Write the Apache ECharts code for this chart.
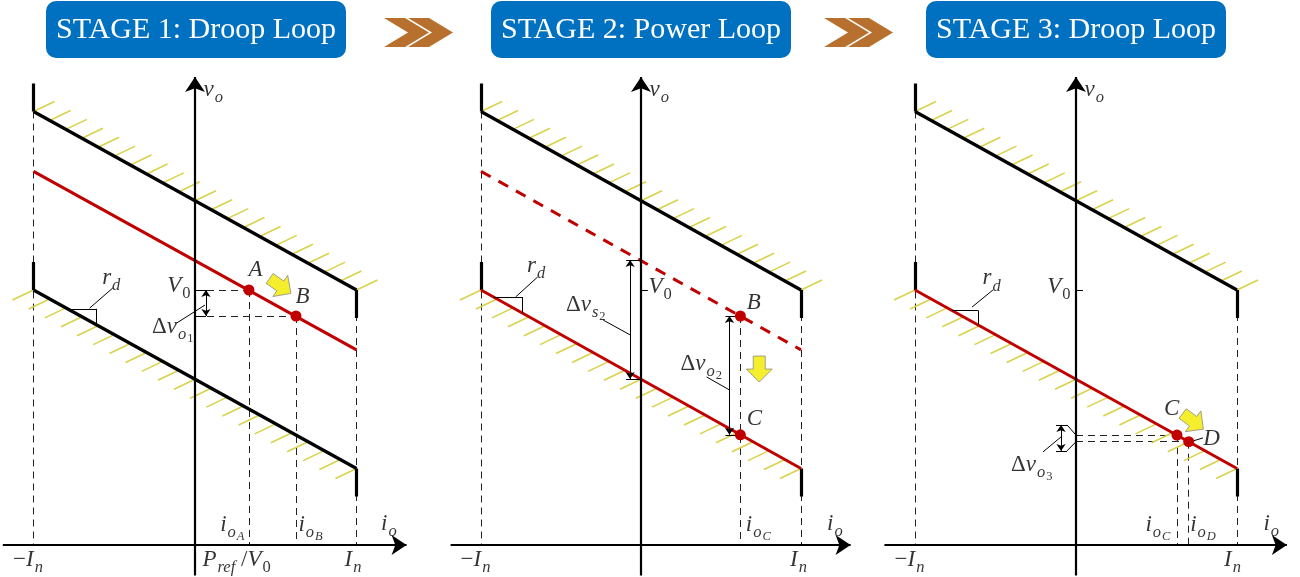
<!DOCTYPE html>
<html><head><meta charset="utf-8">
<script src="https://cdn.jsdelivr.net/npm/echarts@6/dist/echarts.min.js"></script>
<style>html,body{margin:0;padding:0;background:#fff}#c{width:1300px;height:577px}</style>
</head><body><div id="c"></div><script>
// ===== DATA (x: i_o in units of I_n, y: v_o in units of V0) =====
const stageTitles = ['STAGE 1: Droop Loop', 'STAGE 2: Power Loop', 'STAGE 3: Droop Loop'];
const upperLimit = [[-1, 1.70], [1, 1.00]];
const lowerLimit = [[-1, 1.00], [1, 0.30]];
const upperStubs = [[[-1, 1.70], [-1, 1.81]], [[1, 1.00], [1, 0.89]]];
const lowerStubs = [[[-1, 1.00], [-1, 1.11]], [[1, 0.30], [1, 0.19]]];
const droopStage1 = [[-1, 1.465], [1, 0.765]];
const xAxisSpan = [-1.19, 1.31];
const yAxisSpan = [-0.12, 1.835];
const V0 = 1.0;
const stage1Points = [[0.334, 1.000], [0.625, 0.898]];   // A, B
const stage2Points = [[0.621, 0.898], [0.621, 0.432]];   // B, C
const stage3Points = [[0.627, 0.431], [0.700, 0.405]];   // C, D
const rdTriangles = [
  [[-0.789, 0.926], [-0.609, 0.926], [-0.609, 0.863]],
  [[-0.920, 0.972], [-0.740, 0.972], [-0.740, 0.909]],
  [[-0.770, 0.920], [-0.609, 0.920], [-0.609, 0.863]]
];
const dVo1 = {x: 0.068, from: 1.000, to: 0.898};
const dVs2 = {x: -0.068, from: 1.118, to: 0.651};
const dVo2 = {x: 0.553, from: 0.898, to: 0.432};
const dVo3 = {x: -0.093, from: 0.471, to: 0.369};

// ===== LAYOUT / STYLE =====
const PANELS = [{cx: 195, sx: 161.5}, {cx: 641, sx: 160}, {cx: 1076, sx: 161}];
const Y0 = 545, SY = 255, XMIN = -1.2, XMAX = 1.35, YMIN = -0.12, YMAX = 1.95;
const RED = '#c00000', HATCH = '#d9d24a', BLUE = '#0070c0', COPPER = '#b8702f';
const MF = 'Liberation Serif';
const BASE_LH = 24;

const RICH = {
  it: {fontFamily: MF, fontStyle: 'italic', fontSize: 23, lineHeight: 24, verticalAlign: 'top', color: '#000'},
  rm: {fontFamily: MF, fontSize: 23, lineHeight: 24, verticalAlign: 'top', color: '#000'},
  si: {fontFamily: MF, fontStyle: 'italic', fontSize: 16.5, lineHeight: 16, padding: [11, 0, 0, 1], verticalAlign: 'top', color: '#000'},
  sr: {fontFamily: MF, fontSize: 16.5, lineHeight: 16, padding: [11, 0, 0, 1], verticalAlign: 'top', color: '#000'},
  ssi: {fontFamily: MF, fontStyle: 'italic', fontSize: 12.5, lineHeight: 12, padding: [17, 0, 0, 1], verticalAlign: 'top', color: '#000'},
  ssr: {fontFamily: MF, fontSize: 12.5, lineHeight: 12, padding: [17, 0, 0, 1], verticalAlign: 'top', color: '#000'}
};
const it = s => `{it|${s}}`, rm = s => `{rm|${s}}`, si = s => `{si|${s}}`, sr = s => `{sr|${s}}`,
      ssi = s => `{ssi|${s}}`, ssr = s => `{ssr|${s}}`;
const T = {
  vo: it('v') + si('o'), io: it('i') + si('o'),
  mIn: rm('−') + it('I') + si('n'), In: it('I') + si('n'),
  V0: it('V') + sr('0'), rd: it('r') + si('d'),
  pref: it('P') + si('ref') + rm(' /') + it('V') + sr('0'),
  ioA: it('i') + si('o') + ssi('A'), ioB: it('i') + si('o') + ssi('B'),
  ioC: it('i') + si('o') + ssi('C'), ioD: it('i') + si('o') + ssi('D'),
  dvo1: rm('Δ') + it('v') + si('o') + ssr('1'), dvs2: rm('Δ') + it('v') + si('s') + ssr('2'),
  dvo2: rm('Δ') + it('v') + si('o') + ssr('2'), dvo3: rm('Δ') + it('v') + si('o') + ssr('3'),
  A: it('A'), B: it('B'), C: it('C'), D: it('D')
};

const seg = (a, b) => ({coords: [a, b]});
const tri = t => [seg(t[0], t[1]), seg(t[1], t[2])];
const dbl = d => seg([d.x, d.from], [d.x, d.to]);
const ticks = (d, x1, x2) => [seg([x1, d.from], [x2, d.from]), seg([x1, d.to], [x2, d.to])];
const toAxisV = p => seg(p, [p[0], 0]);
const toAxisH = p => seg([0, p[1]], p);

// label entries: [text, anchor(data), dx(px), dy to base-centre(px), align]
const content = [
  { // stage 1
    black: [seg(...upperLimit), seg(...lowerLimit), ...upperStubs.map(s => seg(...s)), ...lowerStubs.map(s => seg(...s))],
    red: [seg(...droopStage1)], redDash: [],
    dashed: [seg(upperLimit[0], [-1, 0]), seg(upperLimit[1], [1, 0]),
             toAxisV(stage1Points[0]), toAxisV(stage1Points[1]), toAxisH(stage1Points[0]), toAxisH(stage1Points[1])],
    thin: [...tri(rdTriangles[0]), ...ticks(dVo1, 0, dVo1.x),
           seg([-0.112, 0.871], [0.062, 0.941]), seg([-0.652, 0.929], [-0.509, 1.008])],
    dbl: [dbl(dVo1)],
    points: stage1Points,
    arrow: [[0.528, 1.016, 35]],
    labels: [
      [T.vo, [0, yAxisSpan[1]], 9, 14, 'left'], [T.io, [xAxisSpan[1], 0], -25, -20, 'left'],
      [T.mIn, [-1, 0], -5, 16, 'center'], [T.In, [1, 0], -3, 16, 'center'], [T.pref, [0, 0], 8, 16, 'left'],
      [T.ioA, [stage1Points[0][0], 0], -4, -19, 'right'], [T.ioB, [stage1Points[1][0], 0], 3, -19, 'left'],
      [T.A, stage1Points[0], 0, -19, 'left'], [T.B, stage1Points[1], 0, -18, 'left'],
      [T.V0, [0, V0], -4, -3, 'right'], [T.dvo1, [0, dVo1.to], -1, 12, 'right'],
      [T.rd, rdTriangles[0][1], 6, -30, 'left']
    ]
  },
  { // stage 2
    black: [seg(...upperLimit), ...upperStubs.map(s => seg(...s)), ...lowerStubs.map(s => seg(...s))],
    red: [seg(...lowerLimit)], redDash: [seg(...droopStage1)],
    dashed: [seg(upperLimit[0], [-1, 0]), seg(upperLimit[1], [1, 0]), toAxisV(stage2Points[0])],
    thin: [...tri(rdTriangles[1]), seg([0, V0], [0.043, V0]),
           ...ticks(dVs2, -0.093, 0), ...ticks(dVo2, 0.528, stage2Points[0][0]),
           seg([-0.236, 0.882], [-0.068, 0.824]), seg([0.41, 0.659], [0.553, 0.608]),
           seg([-0.783, 0.973], [-0.646, 1.051])],
    dbl: [dbl(dVs2), dbl(dVo2)],
    points: stage2Points,
    arrow: [[0.739, 0.690, 90]],
    labels: [
      [T.vo, [0, yAxisSpan[1]], 9, 14, 'left'], [T.io, [xAxisSpan[1], 0], -23, -20, 'left'],
      [T.mIn, [-1, 0], -5, 16, 'center'], [T.In, [1, 0], -2, 16, 'center'],
      [T.ioC, [stage2Points[1][0], 0], 6, -19, 'left'],
      [T.B, stage2Points[0], 7, -12, 'left'], [T.C, stage2Points[1], 7, -15, 'left'],
      [T.V0, [0, V0], 8, -2, 'left'], [T.dvs2, [dVs2.x, dVs2.from], -24, 46, 'right'],
      [T.dvo2, [dVo2.x, dVo2.from], -7, 49, 'right'], [T.rd, rdTriangles[1][1], 5, -30, 'left']
    ]
  },
  { // stage 3
    black: [seg(...upperLimit), ...upperStubs.map(s => seg(...s)), ...lowerStubs.map(s => seg(...s))],
    red: [seg(...lowerLimit)], redDash: [],
    dashed: [seg(upperLimit[0], [-1, 0]), seg(upperLimit[1], [1, 0]),
             toAxisV(stage3Points[0]), toAxisV(stage3Points[1]), toAxisH(stage3Points[0]), toAxisH(stage3Points[1])],
    thin: [...tri(rdTriangles[2]), seg([0, V0], [0.043, V0]),
           ...ticks(dVo3, -0.124, -0.056),
           seg([-0.056, dVo3.from], [0, stage3Points[0][1]]), seg([-0.056, dVo3.to], [0, stage3Points[1][1]]),
           seg([-0.205, 0.365], [-0.087, 0.427]), seg([0.727, 0.408], [0.789, 0.42]),
           seg([-0.646, 0.933], [-0.516, 1.0])],
    dbl: [dbl(dVo3)],
    points: stage3Points,
    arrow: [[0.727, 0.485, 37]],
    labels: [
      [T.vo, [0, yAxisSpan[1]], 9, 14, 'left'], [T.io, [xAxisSpan[1], 0], -23, -20, 'left'],
      [T.mIn, [-1, 0], -5, 16, 'center'], [T.In, [1, 0], -4, 16, 'center'],
      [T.ioC, [stage3Points[0][0], 0], -6, -19, 'right'], [T.ioD, [stage3Points[1][0], 0], 2, -19, 'left'],
      [T.C, stage3Points[0], 3, -25, 'right'], [T.D, stage3Points[1], 15, -2, 'left'],
      [T.V0, [0, V0], -5, -2, 'right'], [T.dvo3, [0, stage3Points[1][1]], -23, 24, 'right'],
      [T.rd, rdTriangles[2][1], 5, -31, 'left']
    ]
  }
];

function hatchItem(params, api) {
  const p1 = api.coord([api.value(0), api.value(1)]);
  const p2 = api.coord([api.value(2), api.value(3)]);
  const side = api.value(4);
  const n = 20, children = [];
  for (let j = 0; j <= n; j++) {
    const t = j / n, x = p1[0] + (p2[0] - p1[0]) * t, y = p1[1] + (p2[1] - p1[1]) * t;
    children.push({type: 'line', shape: {x1: x, y1: y, x2: x + side * 21, y2: y - side * 10},
      style: {stroke: HATCH, lineWidth: 1.6}});
  }
  return {type: 'group', children};
}
function arrowItem(params, api) {
  const c = api.coord([api.value(0), api.value(1)]);
  const a = api.value(2) * Math.PI / 180, ca = Math.cos(a), sa = Math.sin(a);
  const shape = [[-13, -6], [0, -6], [0, -13], [13, 0], [0, 13], [0, 6], [-13, 6]];
  const pts = shape.map(([x, y]) => [c[0] + x * ca - y * sa, c[1] + x * sa + y * ca]);
  return {type: 'polygon', shape: {points: pts}, style: {fill: '#f4ee2c', stroke: '#8a8a8a', lineWidth: 0.8}};
}

const grid = [], xAxis = [], yAxis = [], series = [];
PANELS.forEach((p, k) => {
  grid.push({left: p.cx + XMIN * p.sx, width: (XMAX - XMIN) * p.sx, top: Y0 - YMAX * SY, height: (YMAX - YMIN) * SY, containLabel: false});
  xAxis.push({type: 'value', gridIndex: k, min: XMIN, max: XMAX, show: false});
  yAxis.push({type: 'value', gridIndex: k, min: YMIN, max: YMAX, show: false});
  const c = content[k], ax = {xAxisIndex: k, yAxisIndex: k};
  const L = (data, lineStyle, z, extra) => Object.assign({type: 'lines', coordinateSystem: 'cartesian2d', ...ax,
    data, lineStyle, z, silent: true, symbol: 'none', polyline: false, animation: false}, extra || {});
  series.push(L(c.dashed, {color: '#222', width: 1, type: [7, 5], opacity: 1}, 1));
  series.push({type: 'custom', coordinateSystem: 'cartesian2d', ...ax, z: 2, silent: true, animation: false,
    renderItem: hatchItem,
    data: [[...upperLimit[0], ...upperLimit[1], 1], [...lowerLimit[0], ...lowerLimit[1], -1]]});
  series.push(L(c.black, {color: '#000', width: 3.2, opacity: 1}, 3));
  series.push(L(c.red, {color: RED, width: 3, opacity: 1}, 4));
  if (c.redDash.length) series.push(L(c.redDash, {color: RED, width: 3, type: [11, 9], opacity: 1}, 4));
  series.push(L(c.thin, {color: '#000', width: 1, opacity: 1}, 5));
  series.push(L(c.dbl, {color: '#000', width: 1, opacity: 1}, 5, {symbol: ['arrow', 'arrow'], symbolSize: 7}));
  series.push(L([seg([xAxisSpan[0], 0], [xAxisSpan[1], 0]), seg([0, yAxisSpan[0]], [0, yAxisSpan[1]])],
    {color: '#000', width: 2.2, opacity: 1}, 6, {symbol: ['none', 'arrow'], symbolSize: 15}));
  series.push({type: 'custom', coordinateSystem: 'cartesian2d', ...ax, z: 7, silent: true, animation: false,
    renderItem: arrowItem, data: c.arrow});
  series.push({type: 'scatter', ...ax, z: 8, silent: true, animation: false, symbolSize: 11,
    itemStyle: {color: RED, opacity: 1}, data: c.points});
  series.push({type: 'scatter', ...ax, z: 9, silent: true, animation: false, symbolSize: 1,
    itemStyle: {color: 'rgba(0,0,0,0)'},
    label: {show: true, position: [0, 0], verticalAlign: 'top', rich: RICH},
    data: c.labels.map(([t, at, dx, dy, al]) => ({value: at,
      label: {formatter: t, align: al, offset: [dx, dy - BASE_LH / 2]}}))});
});

// header: stage boxes and chevrons
const boxes = [[46, 300], [491, 300], [926, 300]];
const chevrons = [384, 824];
const graphic = [];
boxes.forEach(([x, w], k) => {
  graphic.push({type: 'rect', shape: {x, y: 1, width: w, height: 57, r: 10}, style: {fill: BLUE}});
  graphic.push({type: 'text', x: x + w / 2, y: 30, style: {text: stageTitles[k], fill: '#fff',
    fontFamily: MF, fontSize: 30, align: 'center', verticalAlign: 'middle'}});
});
chevrons.forEach(x0 => {
  [0, 24].forEach(o => {
    const x = x0 + o;
    graphic.push({type: 'polygon', shape: {points: [[x, 18], [x + 21, 18], [x + 45, 32.5], [x + 21, 47], [x, 47], [x + 24, 32.5]]},
      style: {fill: COPPER}});
  });
});

const chart = echarts.init(document.getElementById('c'), null, {renderer: 'canvas'});
chart.setOption({animation: false, backgroundColor: '#fff', grid, xAxis, yAxis, series, graphic});
</script></body></html>
